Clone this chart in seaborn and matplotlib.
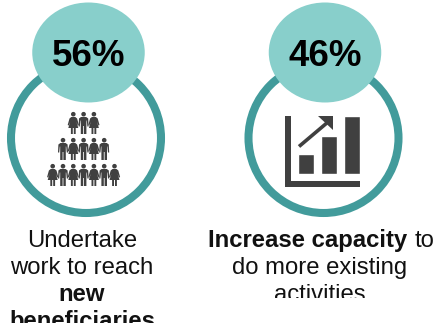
import matplotlib
matplotlib.use("Agg")
import matplotlib.pyplot as plt
from matplotlib.patches import Circle, Ellipse, Polygon, Rectangle
import pandas as pd
import seaborn as sns

sns.set_theme(style="white")
plt.rcParams["font.family"] = ["Liberation Sans", "DejaVu Sans"]

WIDTH, HEIGHT = 436, 331
RING = "#429B9B"
BUBBLE = "#88CFCB"
ICON = "#404040"

percent_labels = ["56%", "46%"]
growth_categories = ["a", "b", "c"]
growth_values = [20.0, 38.3, 58.3]
pyramid_rows = ["fmf", "mfmfm", "fmfmfmf"]

fig = plt.figure(figsize=(WIDTH / 100, HEIGHT / 100), dpi=100, facecolor="white")
ax = fig.add_axes([0, 0, 1, 1])
ax.set_xlim(0, WIDTH)
ax.set_ylim(HEIGHT, 0)
ax.axis("off")


def badge(ring_x, bubble_x, label, text_x):
    ax.add_patch(Circle((ring_x, 138), 75, fc="white", ec=RING, lw=5.8, zorder=1))
    ax.add_patch(Ellipse((bubble_x, 52.5), 112.5, 100, fc=BUBBLE, ec="none", zorder=2))
    ax.text(text_x, 53, label, ha="center", va="center_baseline", fontsize=26.5,
            fontweight="bold", color="black", zorder=3)


badge(86, 88.5, percent_labels[0], 88.5)
badge(323.5, 330 - 5, percent_labels[1], 325)

MAN = [(-2.6, 5), (2.6, 5), (4.6, 6.5), (5.0, 14.5), (3.8, 14.5), (3.2, 8.5), (2.8, 8.5),
       (2.8, 22), (0.4, 22), (0.4, 14), (-0.4, 14), (-0.4, 22), (-2.8, 22), (-2.8, 8.5),
       (-3.2, 8.5), (-3.8, 14.5), (-5.0, 14.5), (-4.6, 6.5)]
WOMAN = [(-2.0, 5), (2.0, 5), (3.8, 6.5), (5.6, 13), (4.6, 13.6), (3.0, 9.5), (5.0, 16),
         (2.4, 16), (2.4, 22), (0.5, 22), (0.5, 16), (-0.5, 16), (-0.5, 22), (-2.4, 22),
         (-2.4, 16), (-5.0, 16), (-3.0, 9.5), (-4.6, 13.6), (-5.6, 13), (-3.8, 6.5)]


def person(cx, top, kind):
    outline = MAN if kind == "m" else WOMAN
    ax.add_patch(Polygon([(cx + px, top + py) for px, py in outline],
                         closed=True, fc=ICON, ec="none", zorder=3))
    ax.add_patch(Circle((cx, top + 2.2), 2.3, fc=ICON, ec="none", zorder=3))


# Stacked rows of figures, centred on one column
for row_top, row in zip([112, 138, 164], pyramid_rows):
    for i, kind in enumerate(row):
        person(83.6 + (i - (len(row) - 1) / 2) * 10.3, row_top, kind)

# Growth icon: axis frame, rising bars and arrow
ax.add_patch(Rectangle((285, 116), 6.3, 70.7, fc=ICON, ec="none", zorder=3))
ax.add_patch(Rectangle((285, 181), 75, 5.7, fc=ICON, ec="none", zorder=3))

bar_ax = fig.add_axes([298 / WIDTH, 1 - 174.3 / HEIGHT, 62 / WIDTH, 58.3 / HEIGHT])
bar_ax.patch.set_alpha(0)
growth = pd.DataFrame({"step": growth_categories, "height": growth_values})
bar_width = 0.713
sns.barplot(data=growth, x="step", y="height", color=ICON, saturation=1, width=bar_width, ax=bar_ax)
bar_ax.set_xlim(-bar_width / 2, 2 + bar_width / 2)
bar_ax.set_ylim(0, 58.3)
bar_ax.axis("off")

ax.plot([299, 328], [146.5, 122], color=ICON, lw=2.6, solid_capstyle="butt", zorder=3)
ax.add_patch(Polygon([(318, 116), (333, 116), (333, 130)], closed=True, fc=ICON, ec="none", zorder=3))


def caption(x, baseline, text, weight="normal", ha="center", clip_bottom=None):
    t = ax.text(x, baseline, text, ha=ha, va="baseline", fontsize=17.2,
                fontweight=weight, color="#111111", zorder=3)
    if clip_bottom is not None:
        t.set_clip_path(Rectangle((0, 0), WIDTH, clip_bottom, transform=ax.transData))
        t.set_clip_on(True)


caption(82, 247, "Undertake")
caption(81.5, 274, "work to reach")
caption(82, 301, "new", weight="bold")
caption(82, 328, "beneficiaries", weight="bold", clip_bottom=323)

caption(407.5, 247, "Increase capacity", weight="bold", ha="right")
caption(415, 247, "to", ha="left")
caption(320, 274, "do more existing")
caption(320, 301, "activities", clip_bottom=298)

fig.savefig("out.png", dpi=100, facecolor="white")
